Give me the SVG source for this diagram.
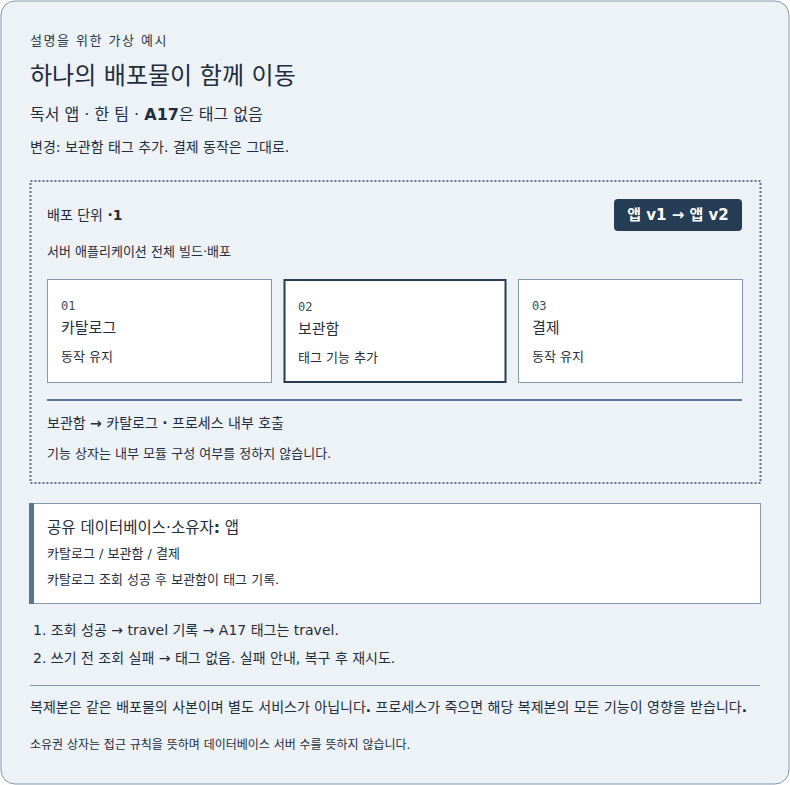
<svg xmlns="http://www.w3.org/2000/svg" width="790" height="785" viewBox="0 0 790 785">
<style>
text{font-family:"DejaVu Sans","Noto Sans CJK KR",sans-serif;fill:#1f2d3d}
.mono{font-family:"DejaVu Sans Mono","Noto Sans CJK KR",monospace;fill:#3a4a5c}
.box{fill:#ffffff;stroke:#8598ac;stroke-width:1}
.sub{fill:#2a3848}
.b{font-weight:700}
</style>
<rect x="1" y="1" width="788" height="783" rx="14" fill="#edf2f7" stroke="#8494a8" stroke-width="1"/>
<g id="header">
<text x="30" y="45" font-size="13" letter-spacing="1.5" class="sub">설명을 위한 가상 예시</text>
<text x="30" y="84" font-size="24">하나의 배포물이 함께 이동</text>
<text x="30" y="120" font-size="16">독서 앱 · 한 팀 · <tspan class="b">A17</tspan>은 태그 없음</text>
<text x="30" y="152" font-size="14">변경: 보관함 태그 추가. 결제 동작은 그대로.</text>
</g>
<g id="deploy-unit">
<rect x="30.5" y="181" width="730" height="302" fill="none" stroke="#587591" stroke-width="2" stroke-dasharray="2 2"/>
<text x="47" y="220" font-size="14">배포 단위 <tspan class="b">·1</tspan></text>
<text x="47" y="256" font-size="13">서버 애플리케이션 전체 빌드·배포</text>
<line x1="47" y1="400" x2="742" y2="400" stroke="#587591" stroke-width="2"/>
<text x="47" y="428" font-size="14">보관함 <tspan class="b">→</tspan> 카탈로그 <tspan class="b">·</tspan> 프로세스 내부 호출</text>
<text x="47" y="458" font-size="13">기능 상자는 내부 모듈 구성 여부를 정하지 않습니다.</text>
</g>
<g id="badge">
<rect x="614" y="199" width="128" height="32" rx="4" fill="#253d55"/>
<text x="678" y="220" font-size="15" font-weight="700" text-anchor="middle" style="fill:#ffffff">앱 v1 → 앱 v2</text>
</g>
<g id="node-01">
<rect class="box" x="47.5" y="279.5" width="224" height="103"/>
<text class="mono" x="61" y="310" font-size="12">01</text>
<text x="61" y="333" font-size="15">카탈로그</text>
<text x="61" y="361" font-size="13">동작 유지</text>
</g>
<g id="node-02">
<rect x="284.5" y="280" width="221" height="102" fill="#ffffff" stroke="#253d55" stroke-width="2"/>
<text class="mono" x="298" y="311" font-size="12">02</text>
<text x="298" y="334" font-size="15">보관함</text>
<text x="298" y="362" font-size="13">태그 기능 추가</text>
</g>
<g id="node-03">
<rect class="box" x="518.5" y="279.5" width="224" height="103"/>
<text class="mono" x="532" y="310" font-size="12">03</text>
<text x="532" y="333" font-size="15">결제</text>
<text x="532" y="361" font-size="13">동작 유지</text>
</g>
<g id="shared-db">
<rect class="box" x="30.5" y="503.5" width="730" height="100"/>
<rect x="29" y="503" width="5" height="101" fill="#587690"/>
<text x="47" y="533" font-size="15.5">공유 데이터베이스·소유자<tspan class="b">:</tspan> 앱</text>
<text x="47" y="558" font-size="13">카탈로그 / 보관함 / 결제</text>
<text x="47" y="584" font-size="13">카탈로그 조회 성공 후 보관함이 태그 기록.</text>
</g>
<g id="connectors"></g>
<g id="notes">
<text x="33" y="635" font-size="14">1. 조회 성공 → travel 기록 → A17 태그는 travel.</text>
<text x="33" y="663" font-size="14">2. 쓰기 전 조회 실패 → 태그 없음. 실패 안내, 복구 후 재시도.</text>
<line x1="30" y1="685.5" x2="760" y2="685.5" stroke="#8494a8" stroke-width="1"/>
<text x="30" y="712" font-size="14">복제본은 같은 배포물의 사본이며 별도 서비스가 아닙니다<tspan class="b">.</tspan> 프로세스가 죽으면 해당 복제본의 모든 기능이 영향을 받습니다<tspan class="b">.</tspan></text>
<text x="30" y="749" font-size="12">소유권 상자는 접근 규칙을 뜻하며 데이터베이스 서버 수를 뜻하지 않습니다.</text>
</g>
</svg>
